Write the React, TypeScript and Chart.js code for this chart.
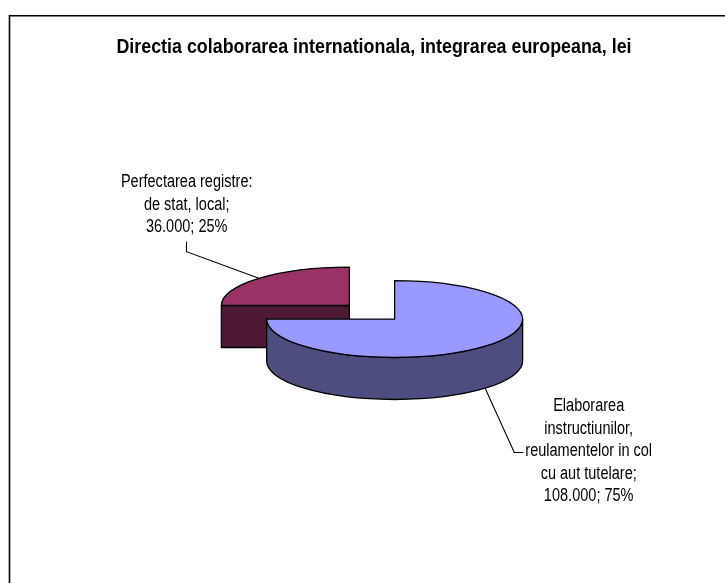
import React, { useEffect, useRef } from "react";
import { Chart, registerables } from "chart.js";

Chart.register(...registerables);

const TITLE = "Directia colaborarea internationala, integrarea europeana, lei";
const categories = ["Perfectarea registre: de stat, local", "Elaborarea instructiunilor, reulamentelor in col cu aut tutelare"];
const values = [36000, 108000];
const labelLines = [
  ["Perfectarea registre:", "de stat, local;", "36.000; 25%"],
  ["Elaborarea", "instructiunilor,", "reulamentelor in col", "cu aut tutelare;", "108.000; 75%"],
];
const topColors = ["#993366", "#9999FF"];
const wallColors = ["#4D1933", "#4D4D80"];

const FONT = '"Liberation Sans", Arial, sans-serif';
const SQUASH = 0.3;
const DEPTH = 42;
const EXPLODE = 32;
const CENTER_X = 372;
const CENTER_Y = 312.3;
const RADIUS = 128;
const TITLE_NARROW = 0.893;
const LABEL_NARROW = 0.807;

const pieGeom = (arc: any) => {
  const { startAngle: a0, endAngle: a1, outerRadius: r, x, y } = arc.getProps(["startAngle", "endAngle", "outerRadius", "x", "y"], true);
  const mid = (a0 + a1) / 2;
  return { a0, a1, r, x, y, cx: x + Math.cos(mid) * EXPLODE, cy: y + Math.sin(mid) * EXPLODE * SQUASH };
};

const pie3d = {
  id: "pie3d",
  afterLayout(chart: any) {
    const half = 220;
    chart.chartArea = {
      left: CENTER_X - half,
      right: CENTER_X + half,
      top: CENTER_Y - half,
      bottom: CENTER_Y + half,
      width: half * 2,
      height: half * 2,
    };
    // the reference's type is condensed: narrow the real title around its centre
    const tb = chart.titleBlock;
    if (tb && !tb.__narrow) {
      tb.__narrow = true;
      const draw = tb.draw.bind(tb);
      tb.draw = () => {
        const c = (tb.left + tb.right) / 2;
        const ctx = chart.ctx;
        ctx.save();
        ctx.translate(c, 0);
        ctx.scale(TITLE_NARROW, 1);
        ctx.translate(-c, 0);
        draw();
        ctx.restore();
      };
    }
  },
  beforeDraw(chart: any) {
    const { ctx, width, height } = chart;
    ctx.save();
    ctx.fillStyle = "#fff";
    ctx.fillRect(0, 0, width, height);
    ctx.strokeStyle = "#000";
    ctx.lineWidth = 1.6;
    ctx.beginPath();
    ctx.moveTo(9.5, height);
    ctx.lineTo(9.5, 15.8);
    ctx.lineTo(width, 15.8);
    ctx.stroke();
    ctx.restore();
  },
  beforeDatasetDraw(chart: any, args: any) {
    const ctx = chart.ctx;
    const arcs = chart.getDatasetMeta(args.index).data;
    arcs.forEach((arc: any, i: number) => {
      const { a0, a1, r, x, y, cx, cy } = pieGeom(arc);
      const px = (a: number) => cx + Math.cos(a) * r;
      const py = (a: number) => cy + Math.sin(a) * r * SQUASH;

      ctx.save();
      ctx.lineWidth = 1.3;
      ctx.strokeStyle = "#000";
      ctx.lineJoin = "round";
      ctx.fillStyle = wallColors[i];

      // curved outer wall: the part of the rim on the near side
      const v0 = Math.max(a0, 0);
      const v1 = Math.min(a1, Math.PI);
      if (v1 > v0) {
        ctx.beginPath();
        ctx.ellipse(cx, cy, r, r * SQUASH, 0, v0, v1);
        ctx.lineTo(px(v1), py(v1) + DEPTH);
        ctx.ellipse(cx, cy + DEPTH, r, r * SQUASH, 0, v1, v0, true);
        ctx.closePath();
        ctx.fill();
        ctx.stroke();
      }
      // flat cut walls that face the viewer
      const cutWall = (a: number) => {
        ctx.beginPath();
        ctx.moveTo(cx, cy);
        ctx.lineTo(px(a), py(a));
        ctx.lineTo(px(a), py(a) + DEPTH);
        ctx.lineTo(cx, cy + DEPTH);
        ctx.closePath();
        ctx.fill();
        ctx.stroke();
      };
      if (-Math.cos(a0) > 1e-6) cutWall(a0);
      if (Math.cos(a1) > 1e-6) cutWall(a1);

      // top face, through the library's own arc element
      ctx.save();
      ctx.translate(cx, cy);
      ctx.scale(1, SQUASH);
      ctx.translate(-x, -y);
      arc.draw(ctx);
      ctx.restore();

      ctx.beginPath();
      ctx.ellipse(cx, cy, r, r * SQUASH, 0, a0, a1);
      ctx.lineTo(cx, cy);
      ctx.closePath();
      ctx.stroke();
      ctx.restore();
    });
    return false;
  },
  afterDraw(chart: any) {
    const ctx = chart.ctx;
    const arcs = chart.getDatasetMeta(0).data;
    const anchor = (i: number, deg: number, dy: number) => {
      const { r, cx, cy } = pieGeom(arcs[i]);
      const a = (deg * Math.PI) / 180;
      return [cx + Math.cos(a) * r, cy + Math.sin(a) * r * SQUASH + dy];
    };
    ctx.save();
    ctx.strokeStyle = "#000";
    ctx.lineWidth = 1.1;
    // leader lines
    const redA = anchor(0, 225, 0);
    ctx.beginPath();
    ctx.moveTo(redA[0], redA[1]);
    ctx.lineTo(186.5, 251.7);
    ctx.lineTo(186.5, 241.7);
    ctx.stroke();
    const blueA = anchor(1, 45, DEPTH);
    ctx.beginPath();
    ctx.moveTo(blueA[0], blueA[1]);
    ctx.lineTo(514.3, 452.5);
    ctx.lineTo(523.3, 452.5);
    ctx.stroke();
    // labels
    ctx.fillStyle = "#000";
    ctx.font = `18px ${FONT}`;
    ctx.textAlign = "center";
    ctx.textBaseline = "middle";
    const block = (lines: string[], x: number, y0: number) => {
      lines.forEach((t, k) => {
        ctx.save();
        ctx.translate(x, y0 + k * 22.5);
        ctx.scale(LABEL_NARROW, 1);
        ctx.fillText(t, 0, 0);
        ctx.restore();
      });
    };
    block(labelLines[0], 186.7, 182.5);
    block(labelLines[1], 588.7, 406.5);
    ctx.restore();
  },
};

export default function App() {
  const ref = useRef<HTMLCanvasElement>(null);
  useEffect(() => {
    const chart = new Chart(ref.current!, {
      type: "pie",
      data: {
        labels: categories,
        datasets: [
          {
            data: values,
            backgroundColor: topColors,
            borderWidth: 0,
            radius: RADIUS,
          } as any,
        ],
      },
      options: {
        responsive: false,
        animation: false,
        rotation: -90,
        plugins: {
          legend: { display: false },
          tooltip: { enabled: false },
          title: {
            display: true,
            text: TITLE,
            color: "#000",
            font: { family: FONT, size: 20, weight: "bold" },
            padding: { top: 35, bottom: 0 },
          },
        },
        layout: { padding: { left: 23, right: 0 } },
      },
      plugins: [pie3d],
    });
    return () => chart.destroy();
  }, []);
  return (
    <canvas
      ref={ref}
      width={725}
      height={583}
      style={{ position: "absolute", left: 0, top: 0, display: "block" }}
    />
  );
}
